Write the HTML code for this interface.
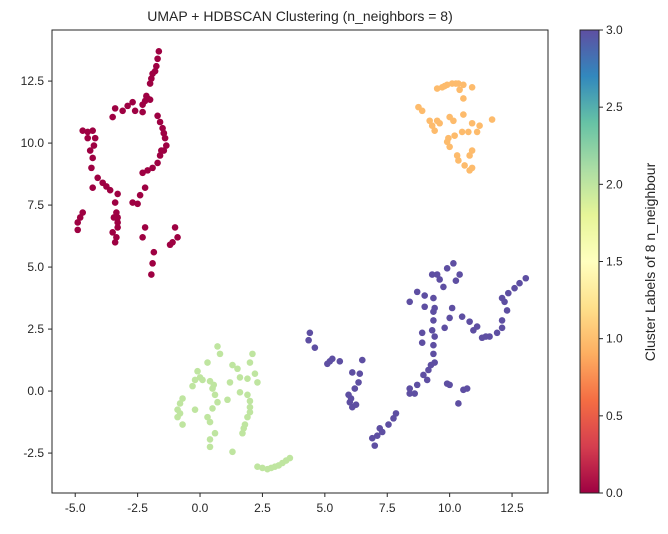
<!DOCTYPE html>
<html><head><meta charset="utf-8"><style>
body{margin:0;background:#fff;}
svg text{font-family:"Liberation Sans","DejaVu Sans",sans-serif;fill:#262626;}
</style></head><body>
<svg id="chart" width="668" height="529" xmlns="http://www.w3.org/2000/svg">
<defs><linearGradient id="spec" x1="0" y1="1" x2="0" y2="0">
<stop offset="0" stop-color="#9e0142"/><stop offset="0.1" stop-color="#d53e4f"/><stop offset="0.2" stop-color="#f46d43"/><stop offset="0.3" stop-color="#fdae61"/><stop offset="0.4" stop-color="#fee08b"/><stop offset="0.5" stop-color="#ffffbf"/><stop offset="0.6" stop-color="#e6f598"/><stop offset="0.7" stop-color="#abdda4"/><stop offset="0.8" stop-color="#66c2a5"/><stop offset="0.9" stop-color="#3288bd"/><stop offset="1" stop-color="#5e4fa2"/>
</linearGradient></defs>
<text x="300" y="21" font-size="14" text-anchor="middle">UMAP + HDBSCAN Clustering (n_neighbors = 8)</text>
<g id="points"></g>
<rect x="52" y="30" width="496" height="463" fill="none" stroke="#262626" stroke-width="1"/>
<g id="axes"></g>
<rect x="580" y="30" width="19" height="463" fill="url(#spec)" stroke="#262626" stroke-width="1"/>
<text transform="translate(655,262) rotate(-90)" font-size="14" text-anchor="middle">Cluster Labels of 8 n_neighbour</text>
</svg>
<script>
const redX=[-1.65,-1.7,-1.75,-1.8,-1.9,-1.95,-2.0,-2.2,-2.1,-2.3,-2.15,-2.0,-2.7,-2.9,-3.1,-3.4,-3.5,-2.6,-2.3,-1.7,-1.6,-1.5,-1.45,-1.4,-1.35,-1.45,-1.6,-1.7,-1.9,-2.1,-2.3,-4.7,-4.5,-4.3,-4.2,-4.5,-4.4,-4.3,-4.35,-4.1,-4.3,-3.9,-3.75,-3.6,-3.3,-3.4,-3.35,-3.3,-3.3,-3.5,-3.4,-2.7,-2.5,-2.4,-2.2,-4.7,-4.8,-4.9,-4.9,-2.2,-2.3,-1.0,-0.9,-1.2,-1.1,-1.85,-1.9,-1.95,-1.45,-1.55,-3.45,-4.25,-3.35,-3.3];
const redY=[13.7,13.4,13.1,12.9,12.8,12.6,12.4,11.7,11.8,11.55,11.9,11.75,11.65,11.5,11.3,11.4,11.05,11.3,11.25,11.1,10.85,10.6,10.4,10.2,9.9,9.7,9.5,9.2,9.0,8.9,8.8,10.5,10.45,10.5,10.2,10.2,9.7,9.4,9.0,8.6,8.2,8.4,8.25,8.1,7.95,7.6,7.2,7.0,6.8,6.4,6.0,7.6,7.55,7.9,8.2,7.2,7.0,6.8,6.5,6.6,6.2,6.6,6.2,5.9,6.0,5.6,5.15,4.7,10.4,9.7,7.0,9.9,6.2,6.6];
const orangeX=[9.5,9.7,9.9,10.1,10.35,10.55,10.4,10.9,10.55,8.75,8.9,10.55,11.7,9.5,10.0,10.15,9.3,9.6,9.4,10.9,11.2,11.1,10.5,10.75,10.2,9.95,9.9,10.0,10.9,10.8,10.3,10.35,10.6,10.8,10.9,9.2,10.25,9.8];
const orangeY=[12.2,12.25,12.35,12.4,12.4,12.35,12.15,12.25,11.8,11.45,11.3,11.15,10.95,10.9,11.05,10.9,10.7,10.8,10.5,10.8,10.7,10.45,10.45,10.45,10.3,10.2,10.05,9.85,9.7,9.5,9.5,9.3,9.1,8.9,9.0,10.9,12.4,12.3];
const greenX=[0.7,0.8,0.3,-0.1,-0.2,0.1,0.4,-0.3,0.5,0.6,0.7,0.5,0.3,0.4,1.1,-0.7,-0.9,-0.9,-0.7,-0.2,0.6,0.4,0.4,1.3,1.5,2.0,2.1,1.6,1.9,2.2,2.3,1.2,1.6,1.9,2.0,1.9,1.8,1.7,1.3,2.3,2.5,2.7,2.85,3.0,3.15,3.3,3.45,3.6,-0.8,0.0,2.0,1.75,-0.8,0.55,2.0];
const greenY=[1.8,1.5,1.15,0.8,0.45,0.45,0.4,0.2,0.1,-0.15,-0.45,-0.7,-1.05,-1.25,-0.35,-0.3,-0.75,-1.05,-1.35,-0.75,-1.7,-1.95,-2.25,1.05,0.9,1.15,1.5,0.55,0.5,0.7,0.35,0.35,-0.05,-0.15,-0.65,-1.05,-1.35,-1.7,-2.45,-3.05,-3.1,-3.15,-3.1,-3.05,-3.0,-2.9,-2.8,-2.7,-0.5,0.55,-0.4,-1.5,-0.9,0.25,-0.85];
const purpleX=[4.4,4.35,4.6,5.1,5.3,5.6,6.5,6.1,6.4,6.35,6.2,5.95,6.0,6.1,6.9,7.0,7.3,7.55,7.75,7.85,8.4,8.6,8.7,8.4,8.95,9.15,9.1,9.4,9.35,9.35,9.4,9.3,8.9,9.35,9.35,9.0,9.4,8.4,8.7,9.0,9.35,9.3,9.5,9.6,9.75,9.9,10.15,10.4,10.1,10.0,9.8,10.5,10.8,11.1,10.95,11.3,11.6,11.9,12.1,12.1,12.3,12.1,12.35,12.6,12.8,13.05,9.9,10.0,10.55,10.7,10.35,5.2,8.9,6.05,10.25,7.1,7.2,9.25,11.45,12.2,6.25];
const purpleY=[2.35,2.05,1.75,1.1,1.3,1.2,1.25,0.75,0.7,0.35,0.1,-0.15,-0.45,-0.65,-1.9,-2.2,-1.65,-1.35,-1.1,-0.9,-0.1,-0.1,0.25,0.1,0.65,0.85,0.45,1.15,1.5,1.85,2.2,2.45,2.35,2.85,3.2,3.4,3.35,3.6,4.0,3.85,3.75,4.7,4.7,4.5,4.2,4.95,5.15,4.7,3.35,2.95,2.55,3.0,2.8,2.6,2.45,2.15,2.2,2.35,2.55,2.85,3.25,3.75,3.95,4.15,4.35,4.55,0.3,0.25,0.05,0.1,-0.5,1.2,1.95,-0.3,4.45,-1.8,-1.5,1.05,2.2,3.6,-0.55];
const clusterColors=["#9e0142","#fdbb6c","#bfe5a0","#5e4fa2"];
const xTicks=[-5.0,-2.5,0.0,2.5,5.0,7.5,10.0,12.5];
const yTicks=[-2.5,0.0,2.5,5.0,7.5,10.0,12.5];
const cTicks=[0.0,0.5,1.0,1.5,2.0,2.5,3.0];

const X0=52,X1=548,Y0=30,Y1=493;
const xMin=-5.93,xMax=13.94,yMin=-4.11,yMax=14.56;
function sx(v){return X0+(v-xMin)/(xMax-xMin)*(X1-X0);}
function sy(v){return Y1-(v-yMin)/(yMax-yMin)*(Y1-Y0);}
function sc(v){return 493-v/3*463;}
const NS="http://www.w3.org/2000/svg";
const pg=document.getElementById('points');
const sets=[[redX,redY],[orangeX,orangeY],[greenX,greenY],[purpleX,purpleY]];
sets.forEach((s,k)=>{
  for(let i=0;i<s[0].length;i++){
    const c=document.createElementNS(NS,'circle');
    c.setAttribute('cx',sx(s[0][i]));c.setAttribute('cy',sy(s[1][i]));
    c.setAttribute('r',3.3);c.setAttribute('fill',clusterColors[k]);
    
    
    pg.appendChild(c);
  }
});
const ax=document.getElementById('axes');
function add(tag,attrs,txt){const e=document.createElementNS(NS,tag);for(const k in attrs)e.setAttribute(k,attrs[k]);if(txt!==undefined)e.textContent=txt;ax.appendChild(e);return e;}
xTicks.forEach(t=>{
  const l=add('line',{x1:sx(t),x2:sx(t),y1:493,y2:497,stroke:'#262626'});
  
  
  const tx=add('text',{x:sx(t),y:512,'font-size':12,'text-anchor':'middle'},t.toFixed(1));
  
  
});
yTicks.forEach(t=>{
  const l=add('line',{x1:48,x2:52,y1:sy(t),y2:sy(t),stroke:'#262626'});
  
  
  const tx=add('text',{x:44,y:sy(t)+4,'font-size':12,'text-anchor':'end'},t.toFixed(1));
  
  
});
cTicks.forEach(t=>{
  const l=add('line',{x1:599,x2:603,y1:sc(t),y2:sc(t),stroke:'#262626'});
  
  
  const tx=add('text',{x:606,y:sc(t)+4,'font-size':12},t.toFixed(1));
  
  
});
</script>
</body></html>
